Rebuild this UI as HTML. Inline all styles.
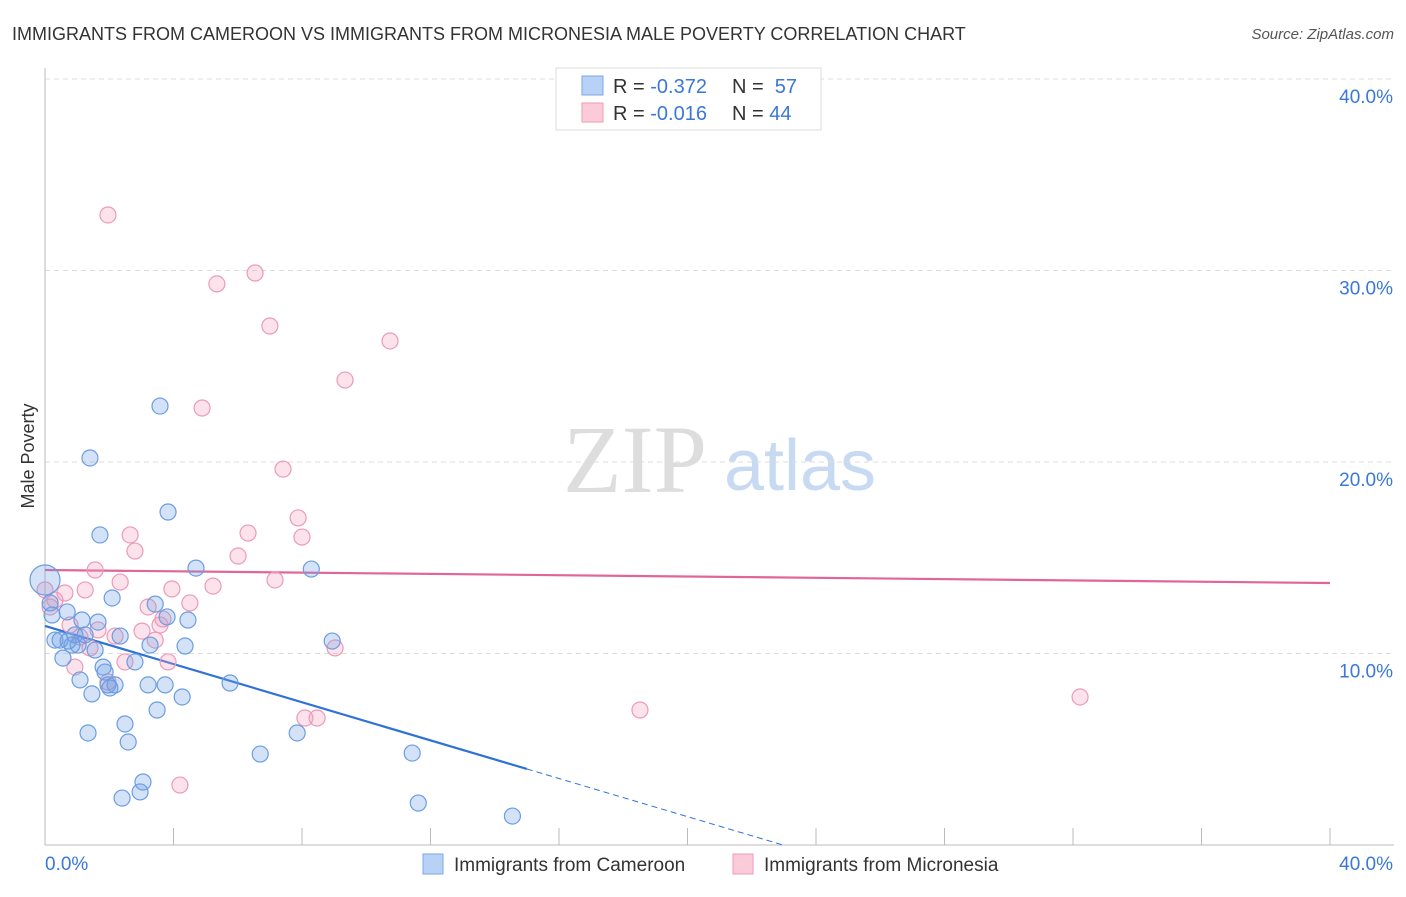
<!DOCTYPE html>
<html><head><meta charset="utf-8"><style>
body{margin:0;background:#fff;font-family:"Liberation Sans",sans-serif;}
svg text{font-family:"Liberation Sans",sans-serif;}
</style></head><body>
<svg id="chart" width="1406" height="892" xmlns="http://www.w3.org/2000/svg">
<text x="12" y="40" font-size="18" fill="#333">IMMIGRANTS FROM CAMEROON VS IMMIGRANTS FROM MICRONESIA MALE POVERTY CORRELATION CHART</text>
<text x="1394" y="39" font-size="15" fill="#555" font-style="italic" text-anchor="end">Source: ZipAtlas.com</text>
<text x="34" y="456" font-size="18" fill="#333" text-anchor="middle" transform="rotate(-90 34 456)">Male Poverty</text>
<g>
<text x="635" y="492" font-size="96" fill="#ddd" text-anchor="middle" font-family="Liberation Serif" style="font-family:'Liberation Serif',serif">ZIP</text>
<text x="800" y="490" font-size="72" fill="#c8daf2" text-anchor="middle">atlas</text>
</g>
<g id="grid"></g><g id="axes"></g><g id="trends"></g><g id="pts"></g>
<g>
<rect x="556" y="68" width="265" height="62" fill="#fff" stroke="#ddd"/>
<rect x="582" y="76" width="21" height="19" fill="#b8d2f5" stroke="#7aa8e8"/>
<rect x="582" y="103" width="21" height="19" fill="#fccbd9" stroke="#f09ab5"/>
<text x="613" y="93" font-size="20" fill="#333">R = <tspan fill="#3a78d8">-0.372</tspan></text>
<text x="732" y="93" font-size="20" fill="#333">N = <tspan fill="#3a78d8">&#160;57</tspan></text>
<text x="613" y="120" font-size="20" fill="#333">R = <tspan fill="#3a78d8">-0.016</tspan></text>
<text x="732" y="120" font-size="20" fill="#333">N = <tspan fill="#3a78d8">44</tspan></text>
</g>
<g>
<rect x="423" y="854" width="20" height="20" fill="#b8d2f5" stroke="#7aa8e8"/>
<text x="454" y="871" font-size="19" fill="#333">Immigrants from Cameroon</text>
<rect x="733" y="854" width="20" height="20" fill="#fccbd9" stroke="#f09ab5"/>
<text x="764" y="871" font-size="19" fill="#333">Immigrants from Micronesia</text>
</g>
</svg>
<script>
const yTicks=[10,20,30,40];
const yTickLabels=["10.0%","20.0%","30.0%","40.0%"];
const xEnds=["0.0%","40.0%"];
const blueX=[0,0.16,0.22,0.31,0.47,0.56,0.69,0.72,0.84,0.93,1.03,1.09,1.15,1.25,1.34,1.4,1.46,1.56,1.65,1.71,1.81,1.87,1.96,2.02,2.09,2.18,2.34,2.4,2.49,2.59,2.8,2.96,3.05,3.21,3.27,3.43,3.49,3.58,3.74,3.8,3.83,4.27,4.36,4.45,4.7,5.76,6.7,7.85,8.29,8.94,11.43,11.62,14.55];
const blueY=[13.84,12.64,12.01,10.7,10.7,9.76,12.17,10.65,10.44,10.97,10.44,8.62,11.75,10.97,5.85,20.21,7.89,10.18,11.64,16.19,9.29,9.03,8.36,8.2,12.9,8.36,10.91,2.45,6.32,5.38,9.56,2.77,3.29,8.36,10.44,12.58,7.05,22.92,8.36,11.91,17.39,7.73,10.39,11.75,14.46,8.46,4.75,5.85,14.41,10.65,4.8,2.19,1.51];
const pinkX=[0,0.16,0.31,0.62,0.78,0.93,1.09,1.25,1.4,1.56,1.65,1.96,1.96,2.18,2.34,2.49,2.65,2.8,3.02,3.21,3.43,3.58,3.67,3.83,3.95,4.2,4.51,4.89,5.23,5.35,6.01,6.32,6.54,7.0,7.16,7.41,7.88,8.0,8.09,8.47,9.03,9.34,10.74,18.52,32.22];
const pinkY=[13.32,12.43,12.79,13.16,11.49,9.29,10.86,13.32,10.29,14.36,11.23,32.9,8.51,10.91,13.73,9.56,16.19,15.35,11.17,12.43,10.7,11.49,11.8,9.56,13.37,3.13,12.64,22.82,13.52,29.3,15.09,16.29,29.87,27.1,13.84,19.63,17.08,16.08,6.63,6.63,10.29,24.28,26.32,7.05,7.73];
const blueTrend=[11.44,-0.498]; // intercept, slope
const pinkTrend=[14.36,-0.017];
const X=v=>45+v*32.125, Y=v=>845-v*19.15;
const NS="http://www.w3.org/2000/svg";
function mk(tag,parent,attrs){const e=document.createElementNS(NS,tag);for(const k in attrs)e.setAttribute(k,attrs[k]);document.getElementById(parent).appendChild(e);return e;}
yTicks.forEach((t,i)=>{
 const l=mk('line','grid',{x1:45,x2:1394,y1:Y(t),y2:Y(t),stroke:'#ddd','stroke-dasharray':'5,4'});
 
 
 const tx=mk('text','grid',{x:1393,y:Y(t)+24,'font-size':19,fill:'#3a78d8','text-anchor':'end'});
 tx.textContent=yTickLabels[i];
 
 
});
const ax=mk('line','axes',{x1:45,x2:1394,y1:845,y2:845,stroke:'#bbb'});


const ay=mk('line','axes',{x1:45,x2:45,y1:68,y2:845,stroke:'#bbb'});


for(let i=0;i<=10;i++){const t=mk('line','axes',{x1:X(i*4),x2:X(i*4),y1:828,y2:845,stroke:'#bbb'});
 
 }
const x0=mk('text','axes',{x:45,y:870,'font-size':19,fill:'#3a78d8'});x0.textContent=xEnds[0];


const x1=mk('text','axes',{x:1393,y:870,'font-size':19,fill:'#3a78d8','text-anchor':'end'});x1.textContent=xEnds[1];


function dot(x,y,r,fill,stroke,name){const c=mk('circle','pts',{cx:X(x),cy:Y(y),r:r,fill:fill,stroke:stroke,'stroke-width':1.2});
 
 }
pinkX.forEach((x,i)=>dot(x,pinkY[i],8,'rgba(245,160,190,0.3)','#ec9ab8','point-micronesia'));
blueX.forEach((x,i)=>dot(x,blueY[i],i===0?15:8,'rgba(110,160,230,0.3)','#6b9de2','point-cameroon'));
const bxEnd=15, bz=-blueTrend[0]/blueTrend[1];
const bl=mk('line','trends',{x1:X(0),y1:Y(blueTrend[0]),x2:X(bxEnd),y2:Y(blueTrend[0]+blueTrend[1]*bxEnd),stroke:'#2f72d6','stroke-width':2.2});


const bd=mk('line','trends',{x1:X(bxEnd),y1:Y(blueTrend[0]+blueTrend[1]*bxEnd),x2:X(bz),y2:Y(0),stroke:'#2f72d6','stroke-width':1,'stroke-dasharray':'6,4'});


const pl=mk('line','trends',{x1:X(0),y1:Y(pinkTrend[0]),x2:X(40),y2:Y(pinkTrend[0]+pinkTrend[1]*40),stroke:'#e0669a','stroke-width':2.2});


</script>
</body></html>
